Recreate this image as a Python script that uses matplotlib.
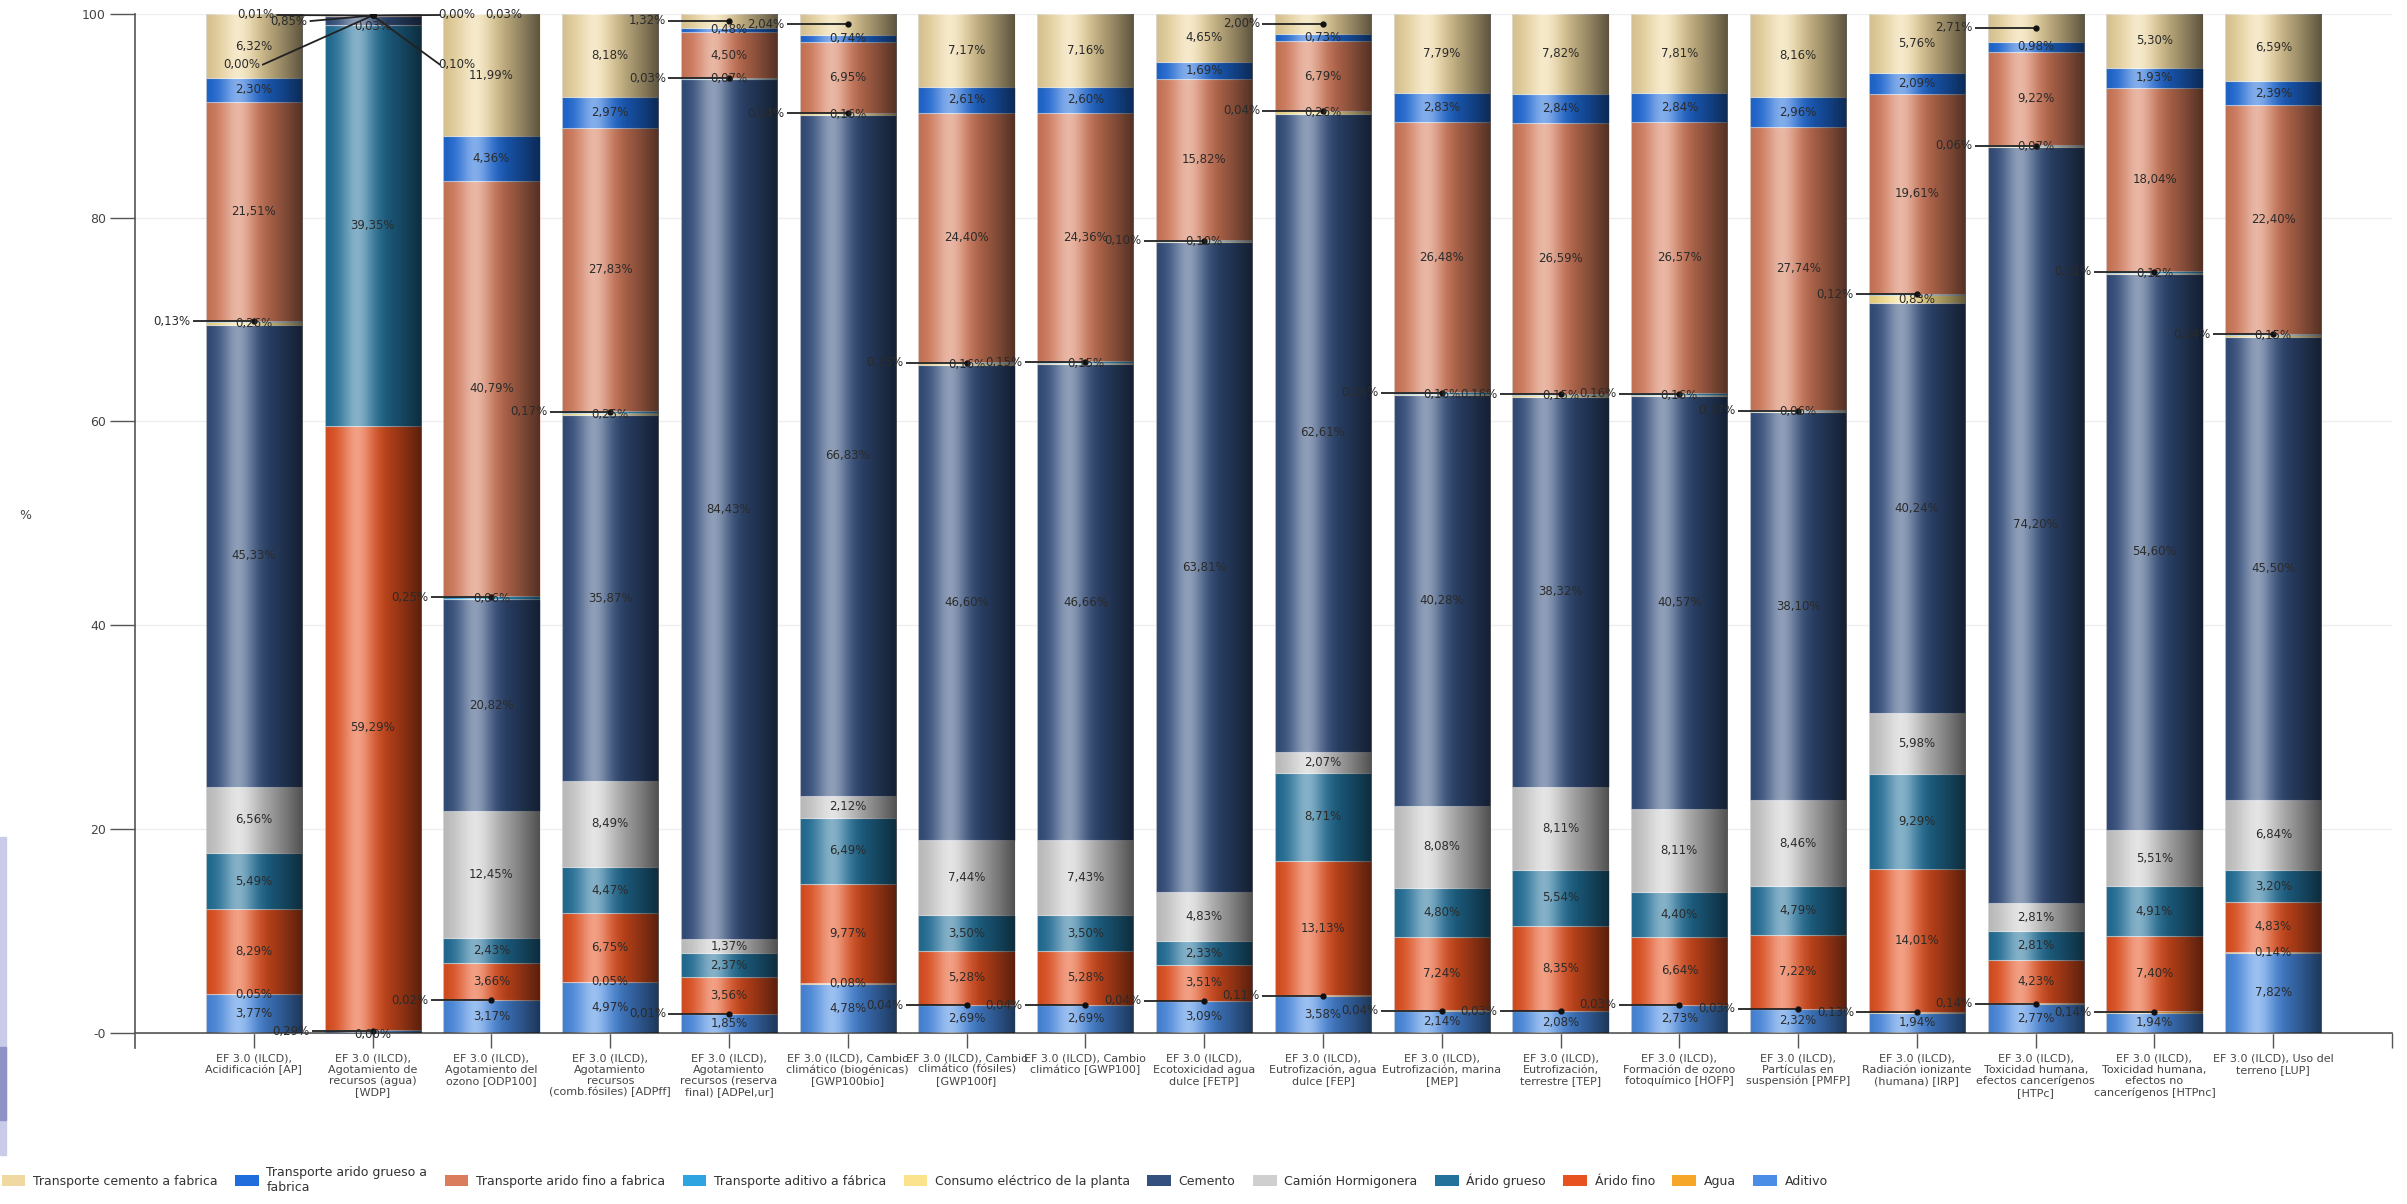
import numpy as np
import matplotlib.pyplot as plt
from matplotlib.patches import Patch, Rectangle


categorias = [
    "EF 3.0 (ILCD),\nAcidificación [AP]",
    "EF 3.0 (ILCD),\nAgotamiento de\nrecursos (agua)\n[WDP]",
    "EF 3.0 (ILCD),\nAgotamiento del\nozono [ODP100]",
    "EF 3.0 (ILCD),\nAgotamiento\nrecursos\n(comb.fósiles) [ADPff]",
    "EF 3.0 (ILCD),\nAgotamiento\nrecursos (reserva\nfinal) [ADPel,ur]",
    "EF 3.0 (ILCD), Cambio\nclimático (biogénicas)\n[GWP100bio]",
    "EF 3.0 (ILCD), Cambio\nclimático (fósiles)\n[GWP100f]",
    "EF 3.0 (ILCD), Cambio\nclimático [GWP100]",
    "EF 3.0 (ILCD),\nEcotoxicidad agua\ndulce [FETP]",
    "EF 3.0 (ILCD),\nEutrofización, agua\ndulce [FEP]",
    "EF 3.0 (ILCD),\nEutrofización, marina\n[MEP]",
    "EF 3.0 (ILCD),\nEutrofización,\nterrestre [TEP]",
    "EF 3.0 (ILCD),\nFormación de ozono\nfotoquímico [HOFP]",
    "EF 3.0 (ILCD),\nPartículas en\nsuspensión [PMFP]",
    "EF 3.0 (ILCD),\nRadiación ionizante\n(humana) [IRP]",
    "EF 3.0 (ILCD),\nToxicidad humana,\nefectos cancerígenos\n[HTPc]",
    "EF 3.0 (ILCD),\nToxicidad humana,\nefectos no\ncancerígenos [HTPnc]",
    "EF 3.0 (ILCD), Uso del\nterreno [LUP]",
]

# % por etapa (de abajo hacia arriba en la pila)
aditivo = [3.77, 0.29, 3.17, 4.97, 1.85, 4.78, 2.69, 2.69, 3.09, 3.58, 2.14, 2.08, 2.73, 2.32, 1.94, 2.77, 1.94, 7.82]
agua = [0.05, 0.00, 0.02, 0.05, 0.01, 0.08, 0.04, 0.04, 0.04, 0.11, 0.04, 0.03, 0.03, 0.03, 0.13, 0.14, 0.14, 0.14]
arido_fino = [8.29, 59.29, 3.66, 6.75, 3.56, 9.77, 5.28, 5.28, 3.51, 13.13, 7.24, 8.35, 6.64, 7.22, 14.01, 4.23, 7.40, 4.83]
arido_grueso = [5.49, 39.35, 2.43, 4.47, 2.37, 6.49, 3.50, 3.50, 2.33, 8.71, 4.80, 5.54, 4.40, 4.79, 9.29, 2.81, 4.91, 3.20]
camion = [6.56, 0.03, 12.45, 8.49, 1.37, 2.12, 7.44, 7.43, 4.83, 2.07, 8.08, 8.11, 8.11, 8.46, 5.98, 2.81, 5.51, 6.84]
cemento = [45.33, 0.85, 20.82, 35.87, 84.43, 66.83, 46.60, 46.66, 63.81, 62.61, 40.28, 38.32, 40.57, 38.10, 40.24, 74.20, 54.60, 45.50]
consumo = [0.26, 0.00, 0.06, 0.25, 0.07, 0.16, 0.16, 0.15, 0.10, 0.26, 0.16, 0.15, 0.16, 0.06, 0.83, 0.07, 0.12, 0.15]
tr_aditivo = [0.13, 0.01, 0.25, 0.17, 0.03, 0.04, 0.15, 0.15, 0.10, 0.04, 0.16, 0.16, 0.16, 0.17, 0.12, 0.06, 0.11, 0.14]
tr_fino = [21.51, 0.10, 40.79, 27.83, 4.50, 6.95, 24.40, 24.36, 15.82, 6.79, 26.48, 26.59, 26.57, 27.74, 19.61, 9.22, 18.04, 22.40]
tr_grueso = [2.30, 0.03, 4.36, 2.97, 0.48, 0.74, 2.61, 2.60, 1.69, 0.73, 2.83, 2.84, 2.84, 2.96, 2.09, 0.98, 1.93, 2.39]
tr_cemento = [6.32, 0.00, 11.99, 8.18, 1.32, 2.04, 7.17, 7.16, 4.65, 2.00, 7.79, 7.82, 7.81, 8.16, 5.76, 2.71, 5.30, 6.59]

series = [
    ("aditivo", "Aditivo", aditivo, "#4a8de6"),
    ("agua", "Agua", agua, "#f6a72a"),
    ("arido_fino", "Árido fino", arido_fino, "#e85220"),
    ("arido_grueso", "Árido grueso", arido_grueso, "#22729c"),
    ("camion", "Camión Hormigonera", camion, "#cfcfcf"),
    ("cemento", "Cemento", cemento, "#34507f"),
    ("consumo", "Consumo eléctrico de la planta", consumo, "#fbe28c"),
    ("tr_aditivo", "Transporte aditivo a fábrica", tr_aditivo, "#2ea4e0"),
    ("tr_fino", "Transporte arido fino a fabrica", tr_fino, "#d97d5c"),
    ("tr_grueso", "Transporte arido grueso a\nfabrica", tr_grueso, "#1f6cdc"),
    ("tr_cemento", "Transporte cemento a fabrica", tr_cemento, "#f0d9a0"),
]

TXT = "#2b2b2b"


def fmt(v):
    return ("%.2f%%" % v).replace(".", ",")


fig = plt.figure(figsize=(24.07, 12.04), dpi=100)
ax = fig.add_axes([0.0561, 0.1296, 0.9377, 0.8588])

x = np.arange(1, len(categorias) + 1)
w = 0.81
bottom = np.zeros(len(categorias))
mids = {}
for key, name, vals, col in series:
    vals = np.array(vals)
    ax.bar(x, vals, w, bottom=bottom, color=col, edgecolor=(1, 1, 1, 0.45), linewidth=0.8, zorder=2)
    mids[key] = bottom + vals / 2
    bottom = bottom + vals

# cylinder shading
t = np.linspace(0, 1, 256)
white = 0.45 * np.exp(-((t - 0.33) / 0.17) ** 2)
black = np.where(t > 0.33, 0.62 * ((t - 0.33) / 0.67) ** 1.3, 0.12 * (0.33 - t) / 0.33)
shade_b = np.zeros((1, 256, 4))
shade_b[0, :, 3] = black
shade_w = np.ones((1, 256, 4))
shade_w[0, :, 3] = white
for xi, top in zip(x, bottom):
    ext = [xi - w / 2, xi + w / 2, 0, top]
    ax.imshow(shade_b, extent=ext, aspect="auto", zorder=3, interpolation="bilinear")
    ax.imshow(shade_w, extent=ext, aspect="auto", zorder=3, interpolation="bilinear")


def leader(xc, y, txt, tx, ty, ha="right"):
    ax.plot([tx + (0.02 if ha == "left" else -0.02) * (1 if ha == "left" else -1), xc], [ty, y],
            color="#222222", lw=1.3, zorder=5, solid_capstyle="butt")
    ax.plot(xc, y, "o", color="#111111", ms=3.5, zorder=6)
    ax.text(tx, ty, txt, ha=ha, va="center", fontsize=8.5, color=TXT, zorder=7)


vals_by_key = {k: v for k, _, v, _ in series}
for i, xc in enumerate(x):
    for key, name, vals, col in series:
        v = vals[i]
        ym = mids[key][i]
        if i == 1:
            continue
        if key == "agua" and aditivo[i] < 3.7:
            leader(xc, ym, fmt(v), xc - 0.53, ym)
        elif key == "tr_aditivo":
            leader(xc, ym, fmt(v), xc - 0.53, ym)
        elif key == "tr_cemento" and tr_grueso[i] < 1:
            leader(xc, ym, fmt(v), xc - 0.53, ym)
        else:
            ax.text(xc, ym, fmt(v), ha="center", va="center", fontsize=8.5, color=TXT, zorder=7)

# bar WDP: cluster of tiny shares at the top
xc = x[1]
leader(xc, mids["aditivo"][1], fmt(aditivo[1]), xc - 0.53, mids["aditivo"][1])
ax.text(xc, -0.2, fmt(agua[1]), ha="center", va="center", fontsize=8.5, color=TXT, zorder=7)
ax.text(xc, mids["arido_fino"][1], fmt(arido_fino[1]), ha="center", va="center", fontsize=8.5, color=TXT, zorder=7)
ax.text(xc, mids["arido_grueso"][1], fmt(arido_grueso[1]), ha="center", va="center", fontsize=8.5, color=TXT, zorder=7)
ax.text(xc, 98.8, fmt(camion[1]), ha="center", va="center", fontsize=8.5, color=TXT, zorder=7)
ytop = 99.85
leader(xc, ytop, fmt(tr_aditivo[1]), xc - 0.83, 99.9)
leader(xc, ytop, fmt(cemento[1]), xc - 0.55, 99.3)
leader(xc, ytop, fmt(consumo[1]), xc - 0.95, 95.0)
leader(xc, ytop, fmt(tr_cemento[1]), xc + 0.55, 99.9, ha="left")
ax.text(xc + 0.95, 99.9, fmt(tr_grueso[1]), ha="left", va="center", fontsize=8.5, color=TXT, zorder=7)
leader(xc, ytop, fmt(tr_fino[1]), xc + 0.55, 95.0, ha="left")

ax.set_xlim(0, 19)
ax.set_ylim(-1.5, 100)
ax.spines["bottom"].set_position(("data", 0))
ax.spines["top"].set_visible(False)
ax.spines["right"].set_visible(False)
for s in ("left", "bottom"):
    ax.spines[s].set_color("#555555")
    ax.spines[s].set_linewidth(1.2)

ax.set_yticks([0, 20, 40, 60, 80, 100])
ax.set_yticklabels(["-0", "20", "40", "60", "80", "100"])
ax.tick_params(axis="y", length=18, width=1, color="#555555", labelsize=9, labelcolor="#444444", pad=3)
ax.set_xticks(list(x) + [19])
ax.set_xticklabels(categorias + [""])
ax.tick_params(axis="x", length=11, width=1, color="#555555", labelsize=8, labelcolor="#444444", pad=4)
for lab in ax.get_xticklabels():
    lab.set_linespacing(1.15)
ax.grid(axis="y", color="#eeeeee", lw=1, zorder=0)
ax.set_axisbelow(True)

fig.text(0.0105, 0.572, "%", fontsize=9, color="#444444", ha="center", va="center")

handles = [Patch(facecolor=col, label=name) for key, name, vals, col in series][::-1]
fig.legend(handles=handles, loc="center left", bbox_to_anchor=(-0.004, 0.02), ncol=11, frameon=False,
           fontsize=9, handlelength=1.9, handleheight=0.9, columnspacing=1.4, handletextpad=0.6,
           labelcolor="#333333")

# screenshot edge strip
fig.patches.append(Rectangle((0, 0.041), 0.0025, 0.264, transform=fig.transFigure, color="#c9cbe8", zorder=0))
fig.patches.append(Rectangle((0, 0.07), 0.0025, 0.06, transform=fig.transFigure, color="#8f92c4", zorder=0))

fig.savefig("out.png", dpi=100)
